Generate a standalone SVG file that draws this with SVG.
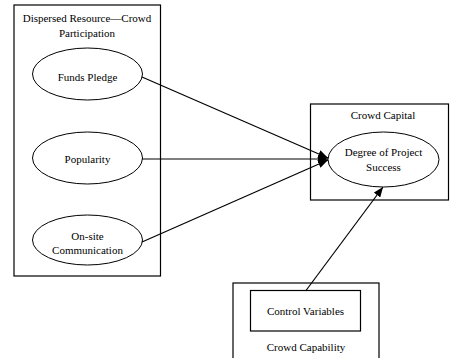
<svg xmlns="http://www.w3.org/2000/svg" width="450" height="358" viewBox="0 0 450 358">
<defs>
<marker id="arrow" markerWidth="10" markerHeight="8" refX="10" refY="4" orient="auto" markerUnits="userSpaceOnUse">
<path d="M0,0 L10,4 L0,8 Z" fill="#000"/>
</marker>
<style>
.box{fill:none;stroke:#000;stroke-width:1.2}
.ell{fill:#fff;stroke:#000;stroke-width:1}
.t{font-family:"Liberation Serif","Times New Roman",serif;font-size:11px;fill:#000;text-anchor:middle}
.c{stroke:#000;stroke-width:1.2;fill:none;marker-end:url(#arrow)}
</style>
</defs>
<rect width="450" height="358" fill="#fff"/>
<g id="dispersed-resource">
<rect class="box" x="14" y="5" width="146.5" height="271"/>
<text class="t" x="87" y="22">Dispersed Resource—Crowd</text>
<text class="t" x="87" y="37">Participation</text>
</g>
<g id="funds-pledge">
<ellipse class="ell" cx="87.5" cy="74" rx="55" ry="26"/>
<text class="t" x="87.5" y="81">Funds Pledge</text>
</g>
<g id="popularity">
<ellipse class="ell" cx="87.5" cy="158" rx="55" ry="26"/>
<text class="t" x="87.5" y="163">Popularity</text>
</g>
<g id="onsite-communication">
<ellipse class="ell" cx="87.5" cy="240" rx="55" ry="25"/>
<text class="t" x="87.5" y="240">On-site</text>
<text class="t" x="87.5" y="254">Communication</text>
</g>
<g id="crowd-capital">
<rect class="box" x="310.5" y="104" width="138" height="96"/>
<text class="t" x="383" y="119">Crowd Capital</text>
</g>
<g id="project-success">
<ellipse class="ell" cx="383.5" cy="159.5" rx="55.5" ry="27.5"/>
<text class="t" x="383.5" y="156">Degree of Project</text>
<text class="t" x="383.5" y="171">Success</text>
</g>
<g id="crowd-capability">
<rect class="box" x="233" y="283" width="146" height="80"/>
<text class="t" x="306" y="351">Crowd Capability</text>
</g>
<g id="control-variables">
<rect class="box" x="250.5" y="290.5" width="110" height="40.5"/>
<text class="t" x="305.5" y="315">Control Variables</text>
</g>
<g id="connectors">
<line class="c" x1="142" y1="77" x2="328" y2="158"/>
<line class="c" x1="142" y1="159" x2="328" y2="159"/>
<line class="c" x1="142" y1="242" x2="328" y2="160"/>
<line class="c" x1="306" y1="290.5" x2="383" y2="187"/>
</g>
</svg>
